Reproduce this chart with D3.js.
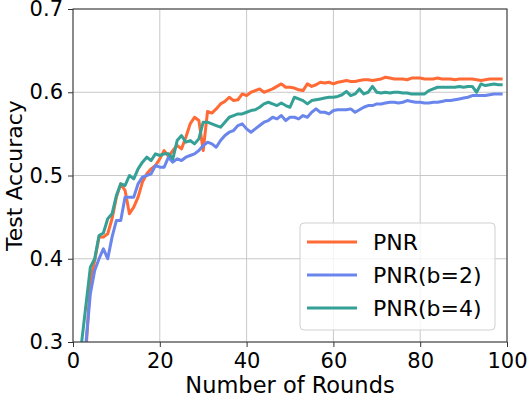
<!DOCTYPE html>
<html>
<head>
<meta charset="utf-8">
<script src="https://cdn.jsdelivr.net/npm/d3@7"></script>
<style>
  body { margin: 0; background: #fff; }
  text { font-family: "DejaVu Sans", sans-serif; fill: #000; }
</style>
</head>
<body>
<div class="chart"></div>
<script>

var seriesNames = ["PNR", "PNR(b=2)", "PNR(b=4)"];
var seriesColors = ["#ff6a35", "#6a86ec", "#35a095"];

// test accuracy per round, rounds 0..99
var pnr = [
  0.22, 0.25, 0.27, 0.29, 0.374, 0.398, 0.426, 0.426, 0.430, 0.448,
  0.474, 0.490, 0.482, 0.454, 0.462, 0.474, 0.492, 0.502, 0.508, 0.512,
  0.520, 0.530, 0.523, 0.530, 0.536, 0.532, 0.546, 0.562, 0.570, 0.566,
  0.530, 0.577, 0.575, 0.580, 0.586, 0.589, 0.594, 0.590, 0.591, 0.598,
  0.596, 0.600, 0.602, 0.604, 0.600, 0.602, 0.604, 0.607, 0.610, 0.606,
  0.606, 0.605, 0.603, 0.602, 0.610, 0.607, 0.609, 0.612, 0.611, 0.612,
  0.610, 0.612, 0.613, 0.614, 0.613, 0.613, 0.614, 0.615, 0.615, 0.614,
  0.615, 0.616, 0.618, 0.617, 0.616, 0.616, 0.616, 0.615, 0.617, 0.617,
  0.617, 0.616, 0.616, 0.616, 0.617, 0.616, 0.616, 0.616, 0.615, 0.616,
  0.616, 0.616, 0.616, 0.615, 0.614, 0.615, 0.616, 0.616, 0.616, 0.616
];

var pnrB2 = [
  0.20, 0.24, 0.27, 0.30, 0.358, 0.386, 0.400, 0.412, 0.400, 0.426,
  0.446, 0.446, 0.474, 0.474, 0.474, 0.490, 0.498, 0.500, 0.502, 0.512,
  0.510, 0.510, 0.522, 0.516, 0.520, 0.518, 0.522, 0.524, 0.526, 0.530,
  0.536, 0.540, 0.538, 0.534, 0.542, 0.548, 0.552, 0.554, 0.560, 0.562,
  0.556, 0.552, 0.556, 0.560, 0.564, 0.566, 0.570, 0.568, 0.572, 0.566,
  0.570, 0.570, 0.568, 0.572, 0.570, 0.576, 0.580, 0.576, 0.576, 0.574,
  0.578, 0.579, 0.579, 0.579, 0.580, 0.576, 0.579, 0.582, 0.584, 0.584,
  0.586, 0.586, 0.587, 0.588, 0.588, 0.587, 0.588, 0.590, 0.589, 0.588,
  0.588, 0.587, 0.587, 0.588, 0.588, 0.589, 0.590, 0.590, 0.591, 0.592,
  0.593, 0.594, 0.596, 0.596, 0.596, 0.596, 0.597, 0.598, 0.598, 0.598
];

var pnrB4 = [
  0.20, 0.25, 0.30, 0.345, 0.390, 0.400, 0.428, 0.431, 0.448, 0.454,
  0.476, 0.490, 0.488, 0.500, 0.496, 0.508, 0.516, 0.522, 0.518, 0.526,
  0.524, 0.526, 0.526, 0.520, 0.542, 0.548, 0.540, 0.542, 0.538, 0.544,
  0.564, 0.564, 0.562, 0.560, 0.558, 0.564, 0.570, 0.572, 0.574, 0.574,
  0.576, 0.578, 0.579, 0.582, 0.586, 0.588, 0.586, 0.584, 0.587, 0.584,
  0.582, 0.594, 0.592, 0.590, 0.586, 0.590, 0.591, 0.592, 0.593, 0.594,
  0.594, 0.595, 0.597, 0.601, 0.596, 0.598, 0.604, 0.598, 0.600, 0.607,
  0.600, 0.599, 0.600, 0.599, 0.600, 0.600, 0.599, 0.599, 0.598, 0.598,
  0.598, 0.598, 0.602, 0.604, 0.606, 0.606, 0.606, 0.606, 0.606, 0.607,
  0.606, 0.607, 0.607, 0.600, 0.610, 0.608, 0.609, 0.610, 0.609, 0.609
];

var xTicks = [0, 20, 40, 60, 80, 100];
var yTicks = [0.3, 0.4, 0.5, 0.6, 0.7];

var allSeries = [pnr, pnrB2, pnrB4];

var width = 529, height = 397;
var margin = {top: 9, right: 22, bottom: 55, left: 73};

var svg = d3.select(".chart").append("svg")
    .attr("width", width)
    .attr("height", height);

var x = d3.scaleLinear().domain([0, 100]).range([margin.left, width - margin.right]);
var y = d3.scaleLinear().domain([0.3, 0.7]).range([height - margin.bottom, margin.top]);

// grid
svg.append("g")
    .selectAll("line.vg")
    .data(xTicks)
    .enter().append("line")
    .attr("x1", function(d){ return x(d); })
    .attr("x2", function(d){ return x(d); })
    .attr("y1", y(0.3))
    .attr("y2", y(0.7))
    .style("stroke", "#c8c8c8")
    .style("stroke-width", 1);

svg.append("g")
    .selectAll("line.hg")
    .data(yTicks)
    .enter().append("line")
    .attr("x1", x(0))
    .attr("x2", x(100))
    .attr("y1", function(d){ return y(d); })
    .attr("y2", function(d){ return y(d); })
    .style("stroke", "#c8c8c8")
    .style("stroke-width", 1);

// lines
svg.append("clipPath")
    .attr("id", "plotClip")
    .append("rect")
    .attr("x", x(0))
    .attr("y", y(0.7))
    .attr("width", x(100) - x(0))
    .attr("height", y(0.3) - y(0.7));

var line = d3.line()
    .x(function(d, i){ return x(i); })
    .y(function(d){ return y(d); });

svg.append("g")
    .attr("clip-path", "url(#plotClip)")
    .selectAll("path")
    .data(allSeries)
    .enter().append("path")
    .attr("d", line)
    .style("fill", "none")
    .style("stroke", function(d, i){ return seriesColors[i]; })
    .style("stroke-width", 3)
    .style("stroke-linejoin", "round");

// axes
var xAxis = svg.append("g")
    .attr("transform", "translate(0," + y(0.3) + ")")
    .call(d3.axisBottom(x).tickValues(xTicks).tickSize(5).tickPadding(6).tickFormat(d3.format("d")));

var yAxis = svg.append("g")
    .attr("transform", "translate(" + x(0) + ",0)")
    .call(d3.axisLeft(y).tickValues(yTicks).tickSize(5).tickPadding(5).tickFormat(d3.format(".1f")));

[xAxis, yAxis].forEach(function(a){
  a.selectAll("text")
    .style("font-size", "21px")
    .style("font-family", "DejaVu Sans")
    .style("fill", "#000");
  a.selectAll("line").style("stroke", "#333");
  a.select(".domain").remove();
});

// frame
svg.append("rect")
    .attr("x", x(0))
    .attr("y", y(0.7))
    .attr("width", x(100) - x(0))
    .attr("height", y(0.3) - y(0.7))
    .style("fill", "none")
    .style("stroke", "#333")
    .style("stroke-width", 1);

// axis labels
svg.append("text")
    .attr("x", (x(0) + x(100)) / 2)
    .attr("y", 393)
    .attr("text-anchor", "middle")
    .style("font-size", "22.5px")
    .text("Number of Rounds");

svg.append("text")
    .attr("transform", "translate(22," + ((y(0.3) + y(0.7)) / 2) + ") rotate(-90)")
    .attr("text-anchor", "middle")
    .style("font-size", "22px")
    .text("Test Accuracy");

// legend
var legend = svg.append("g");

legend.append("rect")
    .attr("x", 300)
    .attr("y", 223)
    .attr("width", 195)
    .attr("height", 107)
    .attr("rx", 4)
    .style("fill", "#fff")
    .style("fill-opacity", 0.8)
    .style("stroke", "#d0d0d0")
    .style("stroke-width", 1);

legend.selectAll("line")
    .data(seriesNames)
    .enter().append("line")
    .attr("x1", 307)
    .attr("x2", 357)
    .attr("y1", function(d, i){ return 242 + i * 33; })
    .attr("y2", function(d, i){ return 242 + i * 33; })
    .style("stroke", function(d, i){ return seriesColors[i]; })
    .style("stroke-width", 3);

legend.selectAll("text")
    .data(seriesNames)
    .enter().append("text")
    .attr("x", 373)
    .attr("y", function(d, i){ return 242 + i * 33 + 8; })
    .style("font-size", "22px")
    .text(function(d){ return d; });

</script>
</body>
</html>
